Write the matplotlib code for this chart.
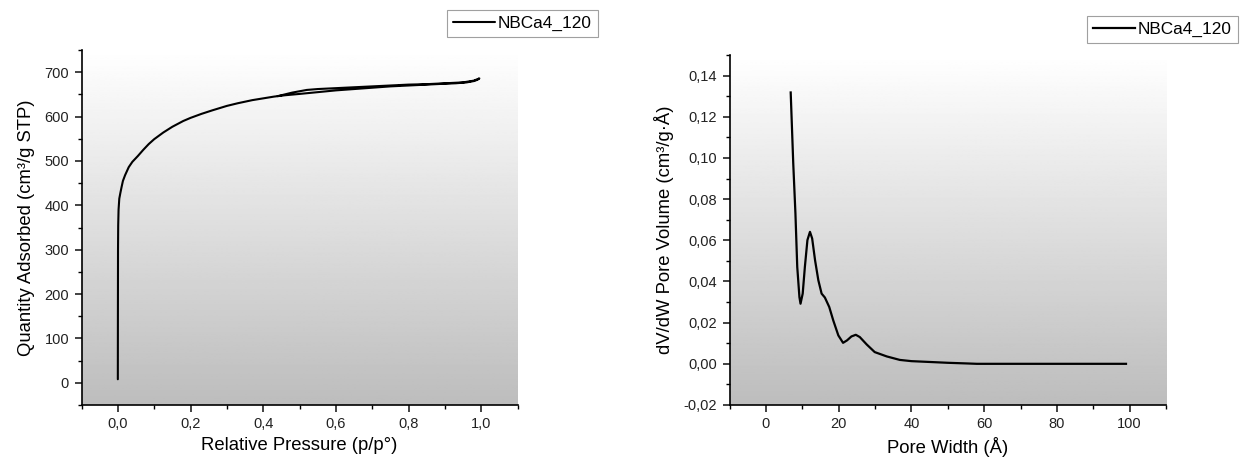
import matplotlib
matplotlib.use("Agg")
import matplotlib.pyplot as plt
import numpy as np
from matplotlib.ticker import FuncFormatter, MultipleLocator

plt.rcParams["font.family"] = ["Liberation Sans", "DejaVu Sans"]

# Isotherm: adsorption branch then desorption branch
ads_p = [0.0, 0.0002, 0.0005, 0.001, 0.002, 0.004, 0.007, 0.01, 0.014, 0.02,
         0.03, 0.04, 0.055, 0.07, 0.085, 0.1, 0.125, 0.15, 0.18, 0.2, 0.23,
         0.26, 0.3, 0.33, 0.37, 0.4, 0.43, 0.46, 0.5, 0.55, 0.6, 0.65, 0.7,
         0.75, 0.8, 0.85, 0.9, 0.93, 0.96, 0.98, 0.99, 0.995]
ads_q = [8, 150, 300, 355, 390, 415, 428, 440, 455, 468, 486, 498, 511, 525,
         538, 549, 564, 577, 590, 597, 606, 614, 624, 630, 637, 641, 645, 648,
         651, 655, 659, 662, 665, 668, 670, 672, 674, 675, 677, 680, 683, 686]
des_p = [0.995, 0.98, 0.95, 0.9, 0.85, 0.8, 0.75, 0.7, 0.65, 0.6, 0.55, 0.52,
         0.5, 0.48, 0.46, 0.44]
des_q = [686, 681, 677, 675, 673, 672, 670, 668, 666, 664, 662, 660, 657,
         654, 650, 646]

# Pore size distribution
pore_w = [6.8, 7.5, 8.1, 8.6, 9.2, 9.5, 10.1, 10.7, 11.4, 12.1, 12.7, 13.5,
          14.4, 15.3, 16.2, 17.4, 18.5, 19.9, 21.2, 22.3, 23.5, 24.7, 25.8,
          27.7, 29.9, 33.2, 36.8, 40.0, 45.0, 50.0, 55.0, 58.0, 70.0, 80.0,
          90.0, 99.0]
pore_v = [0.1318, 0.0974, 0.0731, 0.0471, 0.0324, 0.0292, 0.0341, 0.0471,
          0.0601, 0.0641, 0.0609, 0.0503, 0.0406, 0.0341, 0.0322, 0.0276,
          0.0211, 0.0138, 0.0102, 0.0114, 0.0133, 0.0141, 0.0130, 0.0094,
          0.0057, 0.0036, 0.0019, 0.0013, 0.0009, 0.0005, 0.0002, 0.0, 0.0,
          0.0, 0.0, 0.0]

series_name = "NBCa4_120"
W, H = 1240, 459


def comma_fmt(decimals):
    return FuncFormatter(lambda v, _: f"{v:.{decimals}f}".replace(".", ","))


def style_axes(ax, xlim, ylim, xmaj, xmin, ymaj, ymin, xdec, ydec):
    ax.set_xlim(*xlim)
    ax.set_ylim(*ylim)
    # vertical grey gradient background
    grad = np.linspace(0.74, 1.0, 256).reshape(-1, 1)
    ax.imshow(grad, cmap="gray", vmin=0, vmax=1, aspect="auto",
              extent=(xlim[0], xlim[1], ylim[0], ylim[1]), origin="lower",
              zorder=0)
    for side in ("top", "right"):
        ax.spines[side].set_visible(False)
    for side in ("left", "bottom"):
        ax.spines[side].set_linewidth(1.2)
    ax.xaxis.set_major_locator(MultipleLocator(xmaj))
    ax.xaxis.set_minor_locator(MultipleLocator(xmin))
    ax.yaxis.set_major_locator(MultipleLocator(ymaj))
    ax.yaxis.set_minor_locator(MultipleLocator(ymin))
    ax.xaxis.set_major_formatter(comma_fmt(xdec))
    ax.yaxis.set_major_formatter(comma_fmt(ydec))
    ax.tick_params(which="major", direction="out", length=5, width=1.2,
                   labelsize=10.5, pad=4, colors="#222222")
    ax.tick_params(which="minor", direction="out", length=3, width=1.0)


fig = plt.figure(figsize=(W / 100, H / 100), dpi=100)
fig.patch.set_facecolor("white")

ax1 = fig.add_axes([81.5 / W, 1 - 405 / H, 436 / W, 355 / H])
ax2 = fig.add_axes([729.6 / W, 1 - 405 / H, 436.4 / W, 350 / H])

style_axes(ax1, (-0.1, 1.1), (-50, 750), 0.2, 0.1, 100, 50, 1, 0)
style_axes(ax2, (-10, 110), (-0.02, 0.15), 20, 10, 0.02, 0.01, 0, 2)

iso_p = ads_p + des_p
iso_q = ads_q + des_q
ax1.plot(iso_p, iso_q, color="black", linewidth=1.5, zorder=3,
         solid_joinstyle="round", solid_capstyle="round", label=series_name)
ax2.plot(pore_w, pore_v, color="black", linewidth=1.6, zorder=3,
         solid_joinstyle="round", label=series_name)

ax1.set_xlabel("Relative Pressure (p/p°)", fontsize=13.3, labelpad=4)
ax1.set_ylabel("Quantity Adsorbed (cm³/g STP)", fontsize=13.3, labelpad=7)
ax2.set_xlabel("Pore Width (Å)", fontsize=13.3, labelpad=4)
ax2.set_ylabel("dV/dW Pore Volume (cm³/g·Å)", fontsize=13.3, labelpad=7)

for ax, right, top in ((ax1, 598, 10), (ax2, 1238, 16)):
    h, l = ax.get_legend_handles_labels()
    leg = fig.legend(h, l, loc="upper right",
                     bbox_to_anchor=(right / W, 1 - top / H),
                     borderaxespad=0, fontsize=12.4, frameon=True,
                     fancybox=False, handlelength=2.4, handletextpad=0.2,
                     borderpad=0.35)
    leg.get_frame().set_edgecolor("#888888")
    leg.get_frame().set_linewidth(0.8)

fig.savefig("out.png", dpi=100)
